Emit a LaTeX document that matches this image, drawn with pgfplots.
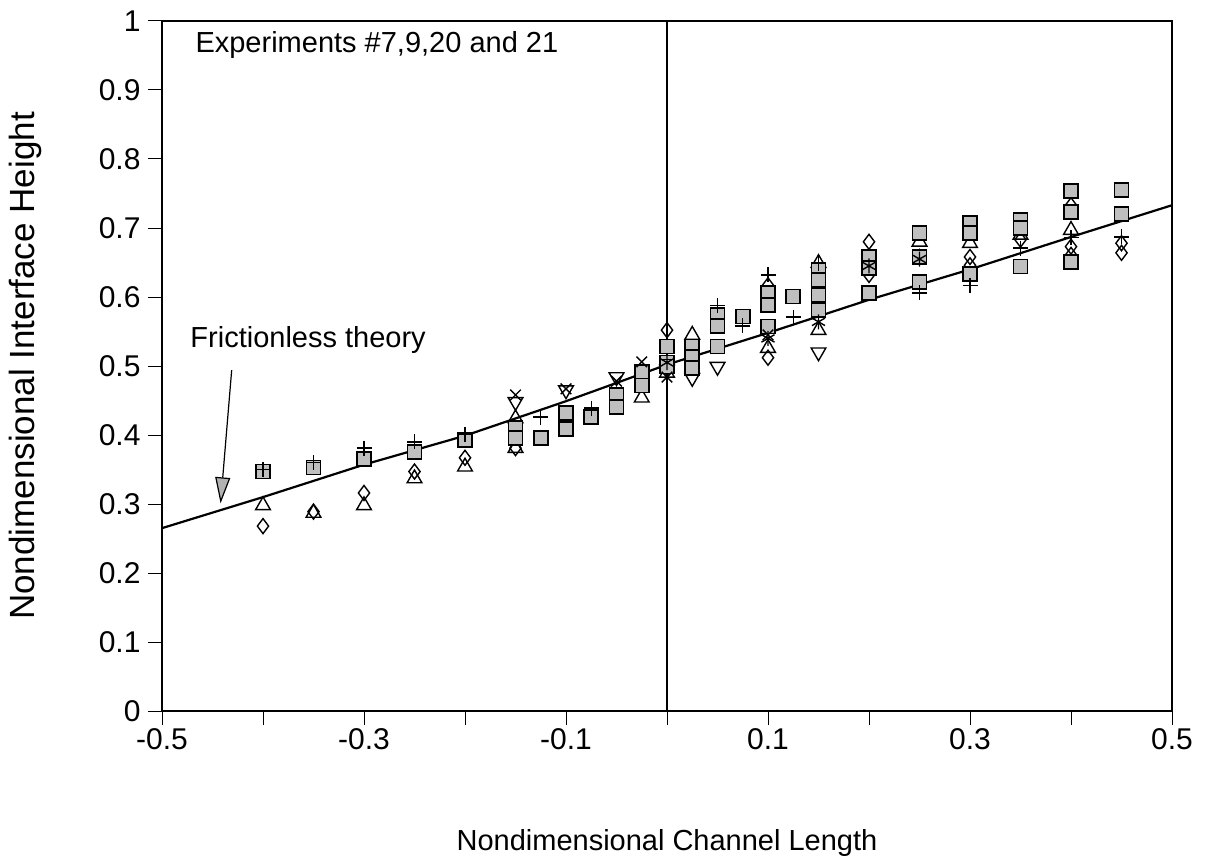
\documentclass[border=0pt]{standalone}
\usepackage{pgfplots}
\pgfplotsset{compat=1.18}
\usepackage{fontspec}
\setmainfont{Liberation Sans}
\usetikzlibrary{arrows.meta}
\begin{document}
\begin{tikzpicture}
\begin{axis}[
  scale only axis, width=1010pt, height=690pt,
  xmin=-0.5, xmax=0.5, ymin=0, ymax=1,
  font=\fontsize{29}{34}\selectfont,
  axis line style={line width=1.2pt},
  xtick={-0.5,-0.4,-0.3,-0.2,-0.1,0,0.1,0.2,0.3,0.4,0.5},
  xticklabels={-0.5,,-0.3,,-0.1,,0.1,,0.3,,0.5},
  ytick={0,0.1,0.2,0.3,0.4,0.5,0.6,0.7,0.8,0.9,1},
  yticklabels={0,0.1,0.2,0.3,0.4,0.5,0.6,0.7,0.8,0.9,1},
  tick align=outside, xtick pos=lower, ytick pos=left,
  major tick length=14pt,
  tick style={line width=1pt, black},
  xticklabel style={font=\fontsize{30}{34}\selectfont},
  yticklabel style={font=\fontsize{30}{34}\selectfont, xshift=-4pt},
  xlabel={Nondimensional Channel Length},
  ylabel={Nondimensional Interface Height},
  xlabel style={at={(axis description cs:0.5,-0.191)},anchor=center},
  ylabel style={at={(axis description cs:-0.135,0.5)},anchor=center, font=\fontsize{35}{40}\selectfont},
  clip=false,
]
% vertical line at x = 0
\addplot[black, line width=1.2pt] coordinates {(0,0) (0,1)};
% frictionless theory
\addplot[black, line width=2.2pt] coordinates {(-0.5,0.265) (-0.4,0.31) (-0.3,0.357) (-0.2,0.399) (-0.1,0.449) (0,0.502) (0.1,0.548) (0.2,0.596) (0.3,0.64) (0.4,0.687) (0.5,0.733)};
% triangles up
\addplot[only marks, mark=triangle, mark size=8.5pt, mark options={line width=1.4pt, black}] coordinates {
(-0.4,0.298) (-0.35,0.287) (-0.3,0.298) (-0.25,0.337) (-0.2,0.354) (-0.15,0.424) (-0.15,0.381) (-0.025,0.454) (0,0.49) (0.025,0.545) (0.1,0.526) (0.15,0.649) (0.15,0.552) (0.25,0.68) (0.3,0.678) (0.35,0.69) (0.4,0.697)};
% triangles down
\addplot[only marks, mark=triangle, mark size=8.5pt, mark options={line width=1.4pt, black, rotate=180}] coordinates {
(-0.15,0.448) (-0.1,0.465) (-0.05,0.484) (0,0.495) (0.025,0.483) (0.05,0.499) (0.15,0.52)};
% diamonds
\addplot[only marks, mark=diamond, mark size=7.5pt, mark options={line width=1.4pt, black}] coordinates {
(-0.4,0.268) (-0.35,0.289) (-0.3,0.316) (-0.25,0.347) (-0.2,0.367) (-0.15,0.381) (0,0.552) (0.1,0.617) (0.1,0.512) (0.2,0.68) (0.2,0.632) (0.25,0.658) (0.3,0.658) (0.3,0.646) (0.35,0.683) (0.4,0.733) (0.4,0.673) (0.4,0.661) (0.45,0.678) (0.45,0.664)};
% squares
\addplot[only marks, mark=square*, mark size=7pt, mark options={line width=1.6pt, draw=black, fill=gray!50}] coordinates {
(-0.4,0.347) (-0.35,0.353) (-0.3,0.365) (-0.25,0.375) (-0.2,0.393) (-0.15,0.41) (-0.15,0.396) (-0.125,0.396) (-0.1,0.432) (-0.1,0.409) (-0.075,0.426) (-0.05,0.458) (-0.05,0.441) (-0.025,0.491) (-0.025,0.472) (0,0.528) (0,0.505) (0,0.499) (0.025,0.528) (0.025,0.513) (0.025,0.497) (0.05,0.574) (0.05,0.558) (0.05,0.528) (0.075,0.572) (0.1,0.606) (0.1,0.588) (0.1,0.557) (0.125,0.601) (0.15,0.639) (0.15,0.625) (0.15,0.603) (0.15,0.581) (0.2,0.658) (0.2,0.642) (0.2,0.606) (0.25,0.693) (0.25,0.658) (0.25,0.622) (0.3,0.707) (0.3,0.693) (0.3,0.633) (0.35,0.712) (0.35,0.70) (0.35,0.644) (0.4,0.754) (0.4,0.723) (0.4,0.651) (0.45,0.755) (0.45,0.720)};
% plus
\addplot[only marks, mark=+, mark size=7.5pt, mark options={line width=1.4pt, black}] coordinates {
(-0.4,0.35) (-0.35,0.36) (-0.3,0.381) (-0.25,0.39) (-0.2,0.401) (-0.125,0.426) (-0.075,0.439) (0.05,0.588) (0.075,0.558) (0.1,0.632) (0.125,0.571) (0.15,0.649) (0.25,0.606) (0.3,0.617) (0.35,0.671) (0.4,0.686) (0.45,0.687)};
% x
\addplot[only marks, mark=x, mark size=7.5pt, mark options={line width=1.4pt, black}] coordinates {
(-0.15,0.458) (-0.1,0.467) (-0.05,0.478) (-0.025,0.506) (0,0.484) (0.1,0.545)};
% asterisk
\addplot[only marks, mark=asterisk, mark size=7.5pt, mark options={line width=1.4pt, black}] coordinates {
(0,0.505) (0.1,0.54) (0.15,0.564) (0.2,0.645) (0.25,0.655)};
% annotations
\node[anchor=west, inner sep=0pt] at (axis cs:-0.467,0.965) {Experiments \#7,9,20 and 21};
\node[anchor=west, inner sep=0pt] at (axis cs:-0.472,0.538) {Frictionless theory};
\draw[line width=1.2pt, -{Triangle[width=15pt,length=26pt,fill=gray!60]}] (axis cs:-0.431,0.494) -- (axis cs:-0.442,0.301);
\end{axis}
\pgfresetboundingbox
\path ([shift={(-162pt,-154pt)}]current axis.south west) rectangle ([shift={(35pt,21pt)}]current axis.north east);
\end{tikzpicture}
\end{document}
